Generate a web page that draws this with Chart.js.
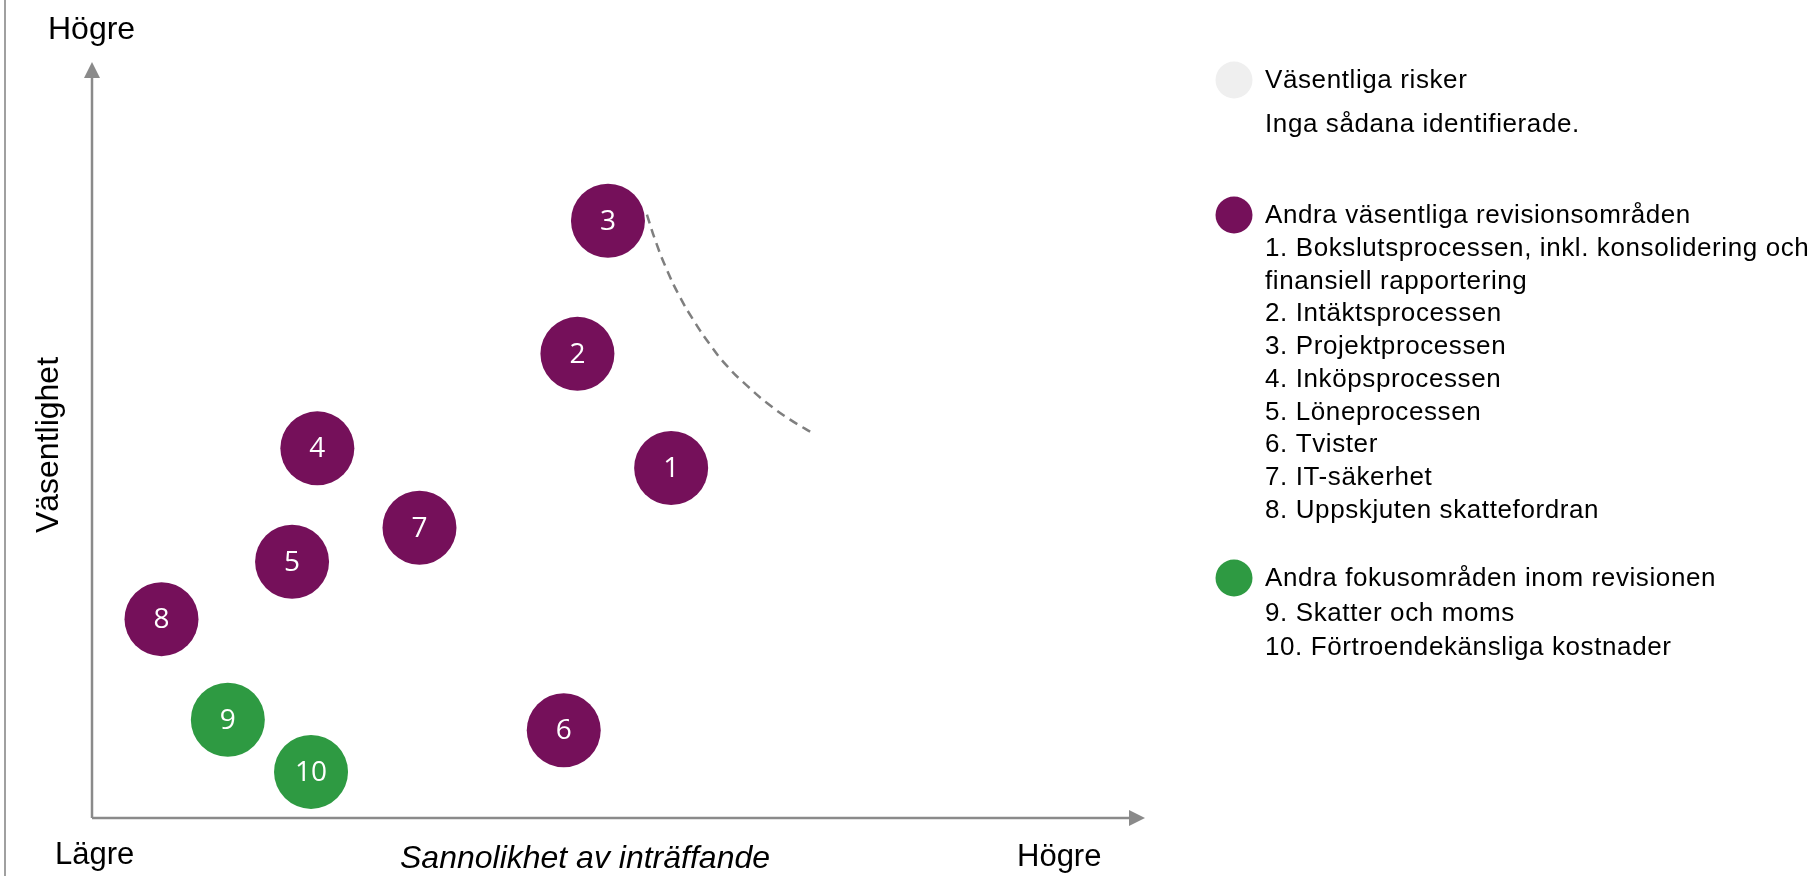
<!DOCTYPE html>
<html>
<head>
<meta charset="utf-8">
<script src="https://cdn.jsdelivr.net/npm/chart.js@4/dist/chart.umd.min.js"></script>
<style>
  html, body { margin: 0; padding: 0; background: #ffffff; }
  #wrap { position: relative; width: 1811px; height: 876px; }
</style>
</head>
<body>
<div id="wrap"><canvas id="c" width="1811" height="876"></canvas></div>
<script>
// ---------- data ----------
const purpleLabels = ['1', '2', '3', '4', '5', '6', '7', '8'];
const purpleX = [55.0, 46.1, 49.0, 21.4, 19.0, 44.8, 31.1, 6.6];
const purpleY = [46.3, 61.4, 79.0, 48.9, 33.9, 11.6, 38.4, 26.3];

const greenLabels = ['9', '10'];
const greenX = [12.9, 20.8];
const greenY = [13.0, 6.1];

// dashed threshold curve (value space)
const curveX = [52.7, 53.6, 54.6, 55.8, 57.1, 58.7, 60.3, 62.2, 64.1, 66.3, 68.7];
const curveY = [79.8, 76.0, 72.5, 69.0, 65.9, 62.6, 59.8, 57.2, 54.9, 52.7, 50.7];

const yAxisTitle = 'Väsentlighet';
const xAxisTitle = 'Sannolikhet av inträffande';
const lowLabel = 'Lägre';
const highLabel = 'Högre';

const legendGreyLines = ['Väsentliga risker', 'Inga sådana identifierade.'];
const legendPurpleLines = [
  'Andra väsentliga revisionsområden',
  '1. Bokslutsprocessen, inkl. konsolidering och',
  'finansiell rapportering',
  '2. Intäktsprocessen',
  '3. Projektprocessen',
  '4. Inköpsprocessen',
  '5. Löneprocessen',
  '6. Tvister',
  '7. IT-säkerhet',
  '8. Uppskjuten skattefordran'
];
const legendGreenLines = [
  'Andra fokusområden inom revisionen',
  '9. Skatter och moms',
  '10. Förtroendekänsliga kostnader'
];

// ---------- styles ----------
const PURPLE = '#75105a';
const GREEN = '#2e9a42';
const LIGHT = '#efefef';
const AXIS = '#8a8a8a';

function pts(xs, ys) { return xs.map((x, i) => ({ x: x, y: ys[i] })); }

const decorPlugin = {
  id: 'decor',
  beforeDatasetsDraw(chart) {
    const ctx = chart.ctx;
    const xs = chart.scales.x, ys = chart.scales.y;
    const x0 = xs.getPixelForValue(0), y0 = ys.getPixelForValue(0);
    const x1 = xs.right, y1 = ys.top;
    ctx.save();
    ctx.strokeStyle = '#a0a0a0';
    ctx.lineWidth = 2;
    ctx.beginPath(); ctx.moveTo(5, 0); ctx.lineTo(5, chart.height); ctx.stroke();
    ctx.strokeStyle = AXIS; ctx.fillStyle = AXIS; ctx.lineWidth = 2.5;
    ctx.beginPath(); ctx.moveTo(x0, y0); ctx.lineTo(x0, y1 + 12); ctx.stroke();
    ctx.beginPath(); ctx.moveTo(x0, y0); ctx.lineTo(x1 - 12, y0); ctx.stroke();
    ctx.beginPath(); ctx.moveTo(x0, y1); ctx.lineTo(x0 - 8, y1 + 16); ctx.lineTo(x0 + 8, y1 + 16); ctx.closePath(); ctx.fill();
    ctx.beginPath(); ctx.moveTo(x1, y0); ctx.lineTo(x1 - 16, y0 - 8); ctx.lineTo(x1 - 16, y0 + 8); ctx.closePath(); ctx.fill();
    ctx.restore();
  },
  afterDatasetsDraw(chart) {
    const ctx = chart.ctx;
    ctx.save();
    ctx.fillStyle = '#ffffff';
    ctx.font = '28px "Open Sans", "Liberation Sans", sans-serif';
    ctx.textAlign = 'center';
    ctx.textBaseline = 'middle';
    chart.data.datasets.forEach((ds, di) => {
      if (!ds.numLabels) return;
      chart.getDatasetMeta(di).data.forEach((el, i) => {
        ctx.fillText(ds.numLabels[i], el.x, el.y + 1);
      });
    });

    ctx.fillStyle = '#000000';
    ctx.textBaseline = 'alphabetic';
    ctx.textAlign = 'left';
    ctx.font = '32px "Liberation Sans", Arial, sans-serif';
    ctx.fillText(highLabel, 48, 39);
    ctx.font = '31px "Liberation Sans", Arial, sans-serif';
    ctx.fillText(lowLabel, 55, 864);
    ctx.fillText(highLabel, 1017, 866);
    ctx.textAlign = 'center';
    ctx.font = 'italic 32px "Liberation Sans", Arial, sans-serif';
    ctx.fillText(xAxisTitle, 585, 868);
    ctx.save();
    ctx.translate(58, 445);
    ctx.rotate(-Math.PI / 2);
    ctx.font = '32px "Liberation Sans", Arial, sans-serif';
    ctx.fillText(yAxisTitle, 0, 0);
    ctx.restore();

    const tx = 1265, cx = 1234, cr = 18.5;
    ctx.textAlign = 'left';
    ctx.font = '26px "Liberation Sans", Arial, sans-serif';
    try { ctx.letterSpacing = '0.6px'; } catch (e) {}
    function group(lines, color, startY, step, firstGap) {
      ctx.fillStyle = color;
      ctx.beginPath(); ctx.arc(cx, startY - 8, cr, 0, Math.PI * 2); ctx.fill();
      ctx.fillStyle = '#000000';
      let y = startY;
      lines.forEach((t, i) => {
        if (i === 1) y += firstGap; else if (i > 1) y += step;
        ctx.fillText(t, tx, y);
      });
    }
    group(legendGreyLines, LIGHT, 88, 33, 44);
    group(legendPurpleLines, PURPLE, 223, 32.7, 33);
    group(legendGreenLines, GREEN, 586, 33.5, 35);
    ctx.restore();
  }
};

new Chart(document.getElementById('c'), {
  type: 'scatter',
  data: {
    datasets: [
      {
        data: pts(curveX, curveY),
        showLine: true,
        borderColor: '#7f7f7f',
        borderWidth: 2.5,
        borderDash: [9, 6],
        tension: 0.5,
        pointRadius: 0,
        fill: false
      },
      {
        data: pts(purpleX, purpleY),
        numLabels: purpleLabels,
        backgroundColor: PURPLE,
        borderWidth: 0,
        pointRadius: 37,
        pointHoverRadius: 37
      },
      {
        data: pts(greenX, greenY),
        numLabels: greenLabels,
        backgroundColor: GREEN,
        borderWidth: 0,
        pointRadius: 37,
        pointHoverRadius: 37
      }
    ]
  },
  options: {
    responsive: false,
    devicePixelRatio: 1,
    animation: false,
    events: [],
    clip: false,
    layout: { padding: { left: 92, right: 666, top: 62, bottom: 58 } },
    scales: {
      x: { type: 'linear', min: 0, max: 100, display: false },
      y: { type: 'linear', min: 0, max: 100, display: false }
    },
    plugins: { legend: { display: false }, tooltip: { enabled: false } }
  },
  plugins: [decorPlugin]
});
</script>
</body>
</html>
